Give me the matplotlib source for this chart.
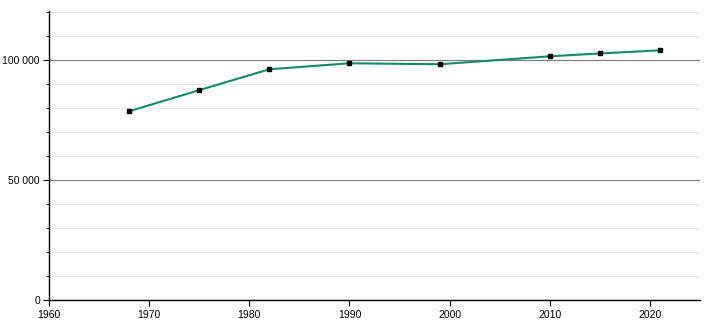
import matplotlib.pyplot as plt
from matplotlib.ticker import MultipleLocator, FuncFormatter

YEARS = [1968, 1975, 1982, 1990, 1999, 2010, 2015, 2021]
POPULATION = [78700, 87500, 96200, 98700, 98300, 101600, 102800, 104100]

plt.rcParams["font.family"] = ["Liberation Sans", "DejaVu Sans"]

fig = plt.figure(figsize=(7.1, 3.2), dpi=100)
ax = fig.add_axes([49 / 710, 20 / 320, (700 - 49) / 710, (300 - 11) / 320])

ax.plot(YEARS, POPULATION, color="#138a68", linewidth=1.5, zorder=3)
ax.plot(YEARS, POPULATION, linestyle="none", marker="s", markersize=3.5,
        color="black", zorder=4)

ax.set_xlim(1960, 2025)
ax.set_ylim(0, 120500)

ax.xaxis.set_major_locator(MultipleLocator(10))
ax.yaxis.set_major_locator(MultipleLocator(50000))
ax.yaxis.set_minor_locator(MultipleLocator(10000))
ax.yaxis.set_major_formatter(FuncFormatter(lambda v, p: f"{int(v):,}".replace(",", " ")))

ax.grid(which="minor", axis="y", color="#e8e8e8", linewidth=0.9, zorder=0)
ax.grid(which="major", axis="y", color="#808080", linewidth=0.9, zorder=1)
ax.set_axisbelow(True)

for side in ("top", "right"):
    ax.spines[side].set_visible(False)
for side in ("left", "bottom"):
    ax.spines[side].set_color("black")
    ax.spines[side].set_linewidth(1.0)

ax.tick_params(which="major", length=4, labelsize=7.5, color="black")
ax.tick_params(axis="y", which="major", pad=2.5)
ax.tick_params(which="minor", length=2.5, color="black")

fig.savefig("out.png", dpi=100)
